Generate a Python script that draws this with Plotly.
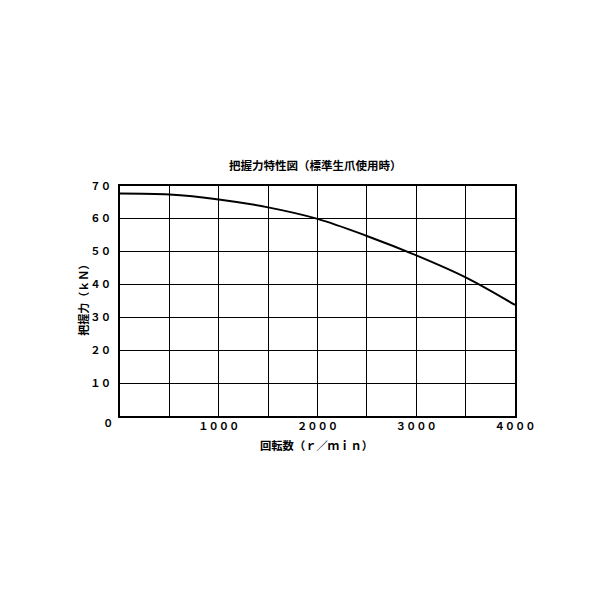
import plotly.graph_objects as go

# 回転数 (r/min) と 把握力 (kN)
speed = [0, 500, 1000, 1500, 2000, 2500, 3000, 3500, 4000]
force = [67.7, 67.4, 65.9, 63.5, 60.0, 54.8, 48.9, 42.2, 33.8]

x_grid = [0, 500, 1000, 1500, 2000, 2500, 3000, 3500, 4000]
x_text = ["", "", "１０００", "", "２０００", "", "３０００", "", "４０００"]
y_grid = [0, 10, 20, 30, 40, 50, 60, 70]
y_text = ["", "１０", "２０", "３０", "４０", "５０", "６０", "７０"]

FONT = "Noto Sans CJK JP"
W = 600  # font weight

fig = go.Figure()
fig.add_trace(go.Scatter(x=speed, y=force, mode="lines", line_shape="spline",
                         line=dict(color="black", width=2), showlegend=False))

fig.update_xaxes(range=[0, 4000], tickvals=x_grid, ticktext=x_text,
                 showgrid=True, gridcolor="black", gridwidth=1.3,
                 showline=True, linecolor="black", linewidth=2, mirror=True,
                 ticks="", zeroline=False,
                 tickfont=dict(family=FONT, size=10.3, color="black", weight=W))
fig.update_yaxes(range=[0, 70], tickvals=y_grid, ticktext=y_text,
                 showgrid=True, gridcolor="black", gridwidth=1.3,
                 showline=True, linecolor="black", linewidth=2, mirror=True,
                 ticks="outside", ticklen=5, tickcolor="white", zeroline=False,
                 tickfont=dict(family=FONT, size=10.3, color="black", weight=W))

fig.add_annotation(text="把握力特性図（標準生爪使用時）", xref="paper", yref="paper",
                   x=0.496, y=1.091, showarrow=False, xanchor="center", yanchor="middle",
                   font=dict(family=FONT, size=11.5, color="black", weight=W))
fig.add_annotation(text="回転数（ｒ／ｍｉｎ）", xref="paper", yref="paper",
                   x=0.497, y=-0.126, showarrow=False, xanchor="center", yanchor="middle",
                   font=dict(family=FONT, size=11.3, color="black", weight=W))
fig.add_annotation(text="把握力（ｋＮ）", xref="paper", yref="paper",
                   x=-0.096, y=0.515, showarrow=False, textangle=-90,
                   xanchor="center", yanchor="middle",
                   font=dict(family=FONT, size=11, color="black", weight=W))
fig.add_annotation(text="０", xref="paper", yref="paper",
                   x=-0.03, y=-0.03, showarrow=False, xanchor="center", yanchor="middle",
                   font=dict(family=FONT, size=10.3, color="black", weight=W))

fig.update_layout(width=600, height=600, plot_bgcolor="white", paper_bgcolor="white",
                  margin=dict(l=112, r=93, t=178, b=192))

fig.write_html("out.html")
